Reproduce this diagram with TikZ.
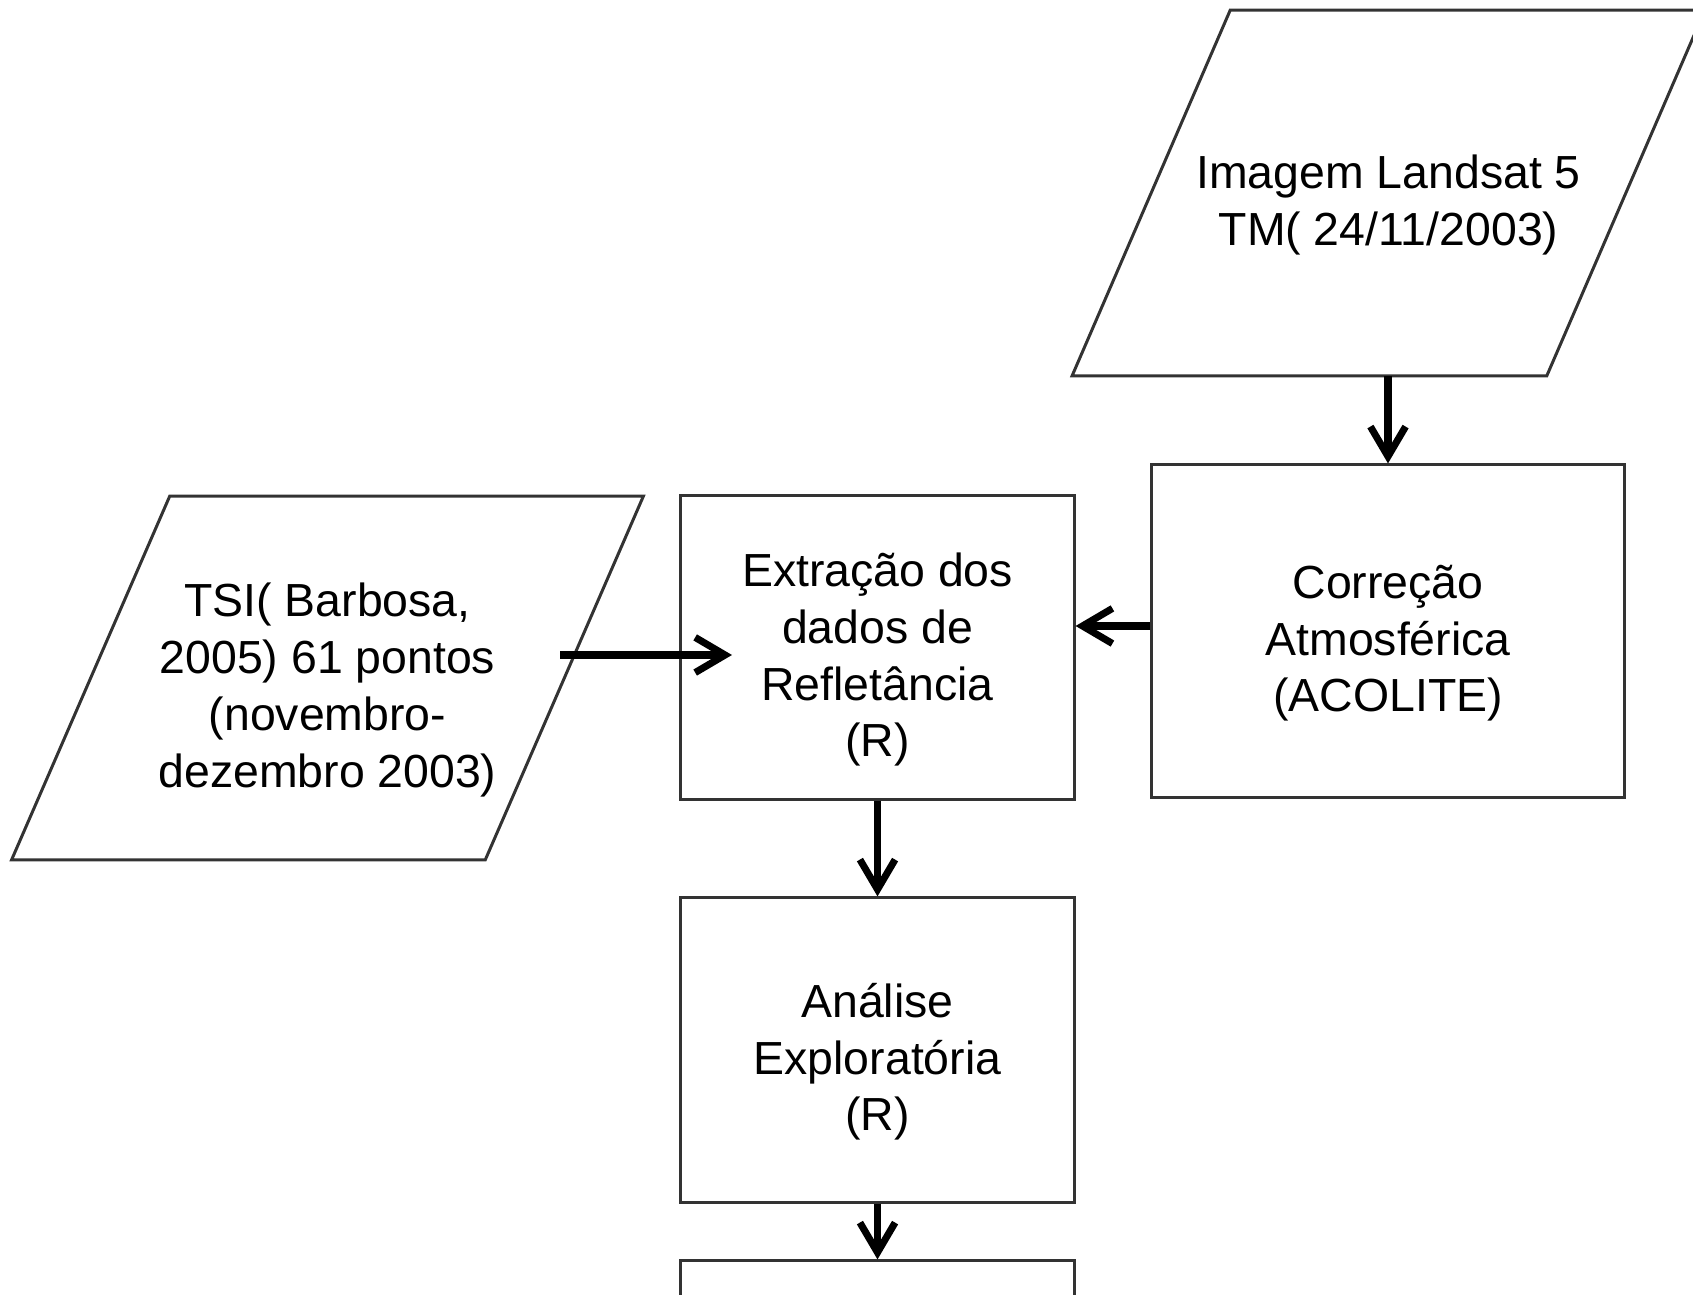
\documentclass[tikz,border=0pt]{standalone}
\usepackage{fontspec}
\setmainfont{Liberation Sans}
\usetikzlibrary{arrows.meta}
\definecolor{edgegray}{HTML}{333333}
\newcommand{\topgap}{\rule{0pt}{16.4pt}}
\newcommand{\dataframe}[1]{\draw[dataedge] ([xshift=-0.79cm]#1.south west) -- ([xshift=-0.79cm]#1.south east)
  -- ([xshift=0.79cm]#1.north east) -- ([xshift=0.79cm]#1.north west) -- cycle;}
\tikzset{
  procbox/.style={draw=edgegray, line width=0.85pt, rectangle, align=center,
    font=\fontsize{13.2}{16.2}\selectfont, inner sep=0pt},
  databox/.style={rectangle, align=center, font=\fontsize{13.2}{16.2}\selectfont, inner sep=0pt},
  dataedge/.style={draw=edgegray, line width=0.85pt, line join=miter},
  flow/.style={draw=black, line width=2pt,
    -{Straight Barb[length=8.5pt,width=10pt,line width=2pt]}}
}

\begin{document}
\begin{tikzpicture}[x=0.01cm,y=-0.01cm]
\clip (0,0) rectangle (1693,1295);
% entradas
\node[databox, minimum width=4.73cm, minimum height=3.64cm] (imagem) at (1388.5,193) {\topgap Imagem Landsat 5\\TM( 24/11/2003)};
\node[databox, minimum width=4.72cm, minimum height=3.62cm] (tsi) at (327.5,678) {\topgap TSI( Barbosa,\\2005) 61 pontos\\(novembro-\\dezembro 2003)};
\dataframe{imagem}
\dataframe{tsi}
% processos
\node[procbox, minimum width=4.72cm, minimum height=3.32cm] (correcao) at (1388,631) {\topgap Correção\\Atmosférica\\(ACOLITE)};
\node[procbox, minimum width=3.93cm, minimum height=3.03cm] (extracao) at (877.5,647.5) {\topgap Extração dos\\dados de\\Refletância\\(R)};
\node[procbox, minimum width=3.93cm, minimum height=3.04cm] (analise) at (877.5,1050) {\topgap Análise\\Exploratória\\(R)};
\node[procbox, minimum width=3.93cm, minimum height=3.04cm] (proximo) at (877.5,1413) {};
% ligacoes
\coordinate (tsiout) at (560,655);
\coordinate (extin) at (732,655);
\draw[flow] (correcao.north |- imagem.south) -- (correcao.north);
\draw[flow] ([yshift=0.05cm]correcao.west) -- ([yshift=0.05cm]correcao.west -| extracao.east);
\draw[flow] (tsiout) -- (extin);
\draw[flow] (extracao.south) -- (analise.north);
\draw[flow] (analise.south) -- (proximo.north);
\end{tikzpicture}
\end{document}
